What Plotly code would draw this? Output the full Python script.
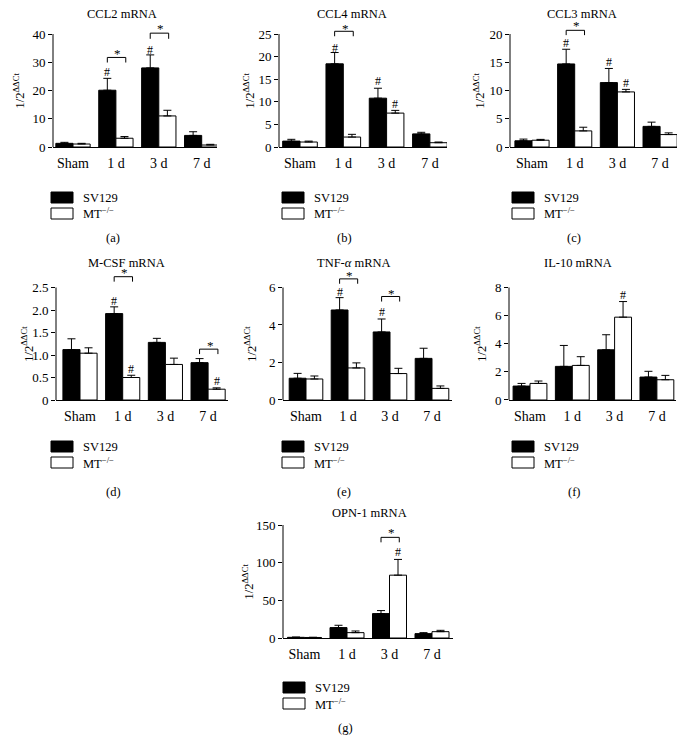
import plotly.graph_objects as go

W, H = 688, 755          # target picture size
OFF = 8                  # page offset of the figure inside the window
FW, FH = W - OFF, H - OFF
FONT = "Liberation Serif"

categories = ["Sham", "1 d", "3 d", "7 d"]
series_names = ["SV129", "MT<sup>−/−</sup>"]

# ---- data (mean, upper error) ----
ccl2_sv129 = [1.3, 20.1, 28.0, 4.1]
ccl2_sv129_err = [0.35, 4.2, 4.6, 1.3]
ccl2_mt = [1.05, 3.1, 11.0, 0.7]
ccl2_mt_err = [0.25, 0.6, 2.0, 0.25]

ccl4_sv129 = [1.3, 18.4, 10.8, 2.9]
ccl4_sv129_err = [0.4, 2.5, 2.2, 0.35]
ccl4_mt = [1.1, 2.2, 7.5, 0.95]
ccl4_mt_err = [0.2, 0.6, 0.6, 0.15]

ccl3_sv129 = [1.1, 14.7, 11.4, 3.65]
ccl3_sv129_err = [0.3, 2.6, 2.5, 0.75]
ccl3_mt = [1.2, 2.85, 9.75, 2.2]
ccl3_mt_err = [0.15, 0.65, 0.45, 0.3]

mcsf_sv129 = [1.12, 1.92, 1.28, 0.83]
mcsf_sv129_err = [0.24, 0.15, 0.09, 0.09]
mcsf_mt = [1.04, 0.50, 0.79, 0.24]
mcsf_mt_err = [0.12, 0.05, 0.14, 0.03]

tnf_sv129 = [1.16, 4.8, 3.63, 2.22]
tnf_sv129_err = [0.26, 0.66, 0.69, 0.54]
tnf_mt = [1.12, 1.71, 1.41, 0.62]
tnf_mt_err = [0.16, 0.27, 0.28, 0.13]

il10_sv129 = [0.99, 2.39, 3.57, 1.63]
il10_sv129_err = [0.19, 1.49, 1.07, 0.41]
il10_mt = [1.18, 2.46, 5.89, 1.44]
il10_mt_err = [0.17, 0.62, 1.11, 0.31]

opn1_sv129 = [0.9, 13.8, 32.4, 5.8]
opn1_sv129_err = [0.3, 3.1, 4.0, 1.3]
opn1_mt = [0.7, 7.1, 83.4, 8.4]
opn1_mt_err = [0.3, 2.2, 20.9, 1.8]

# significance: '#' marks (category index, series 0/1, y)
ccl2_hash = [(1, 0, 26.7), (2, 0, 34.4)]
ccl4_hash = [(1, 0, 21.8), (2, 0, 14.5), (2, 1, 9.5)]
ccl3_hash = [(1, 0, 18.4), (2, 0, 15.1), (2, 1, 11.3)]
mcsf_hash = [(1, 0, 2.2), (1, 1, 0.70), (3, 1, 0.43)]
tnf_hash = [(1, 0, 5.78), (2, 0, 4.68)]
il10_hash = [(2, 1, 7.5)]
opn1_hash = [(2, 1, 114.5)]

# '*' brackets (category index, bracket y, tick bottom y, star y)
ccl2_star = [(1, 31.7, 29.9, 33.8), (2, 40.3, 38.3, 42.5)]
ccl4_star = [(1, 25.6, 24.5, 26.7)]
ccl3_star = [(1, 20.65, 19.8, 21.8)]
mcsf_star = [(1, 2.74, 2.63, 2.87), (3, 1.13, 1.02, 1.26)]
tnf_star = [(1, 6.46, 6.2, 6.76), (2, 5.52, 5.25, 5.8)]
il10_star = []
opn1_star = [(2, 133.6, 127.0, 142.5)]

ccl2_ticks = [0, 10, 20, 30, 40]
ccl4_ticks = [0, 5, 10, 15, 20, 25]
ccl3_ticks = [0, 5, 10, 15, 20]
mcsf_ticks = [0, 0.5, 1.0, 1.5, 2.0, 2.5]
mcsf_ticktext = ["0", "0.5", "1.0", "1.5", "2.0", "2.5"]
tnf_ticks = [0, 2, 4, 6]
il10_ticks = [0, 2, 4, 6, 8]
opn1_ticks = [0, 50, 100, 150]

# ---- layout of panels (pixels in the target picture) ----
rows = {
    1: dict(zero=147, top=34, title_y=14, leg_y=192, lab_y=238),
    2: dict(zero=400, top=287.5, title_y=263, leg_y=441, lab_y=492),
    3: dict(zero=638, top=525, title_y=513, leg_y=682, lab_y=728),
}

panels = [
    dict(lab="(a)", title="CCL2 mRNA", sv=ccl2_sv129, sve=ccl2_sv129_err, mt=ccl2_mt, mte=ccl2_mt_err,
         hash=ccl2_hash, star=ccl2_star, ticks=ccl2_ticks, ticktext=None, rmax=44.0,
         row=1, xl=53, xr=217, c0=73, s=42.9, tcx=122, ylx=18, legx=51),
    dict(lab="(b)", title="CCL4 mRNA", sv=ccl4_sv129, sve=ccl4_sv129_err, mt=ccl4_mt, mte=ccl4_mt_err,
         hash=ccl4_hash, star=ccl4_star, ticks=ccl4_ticks, ticktext=None, rmax=27.5,
         row=1, xl=279, xr=447, c0=300, s=43.3, tcx=352, ylx=248, legx=282),
    dict(lab="(c)", title="CCL3 mRNA", sv=ccl3_sv129, sve=ccl3_sv129_err, mt=ccl3_mt, mte=ccl3_mt_err,
         hash=ccl3_hash, star=ccl3_star, ticks=ccl3_ticks, ticktext=None, rmax=22.5,
         row=1, xl=510, xr=677, c0=532, s=42.7, tcx=582, ylx=478, legx=512),
    dict(lab="(d)", title="M-CSF mRNA", sv=mcsf_sv129, sve=mcsf_sv129_err, mt=mcsf_mt, mte=mcsf_mt_err,
         hash=mcsf_hash, star=mcsf_star, ticks=mcsf_ticks, ticktext=mcsf_ticktext, rmax=2.95,
         row=2, xl=56, xr=228, c0=80, s=42.7, tcx=126, ylx=27, legx=51),
    dict(lab="(e)", title="TNF-<i>α</i> mRNA", sv=tnf_sv129, sve=tnf_sv129_err, mt=tnf_mt, mte=tnf_mt_err,
         hash=tnf_hash, star=tnf_star, ticks=tnf_ticks, ticktext=None, rmax=6.95,
         row=2, xl=283, xr=452, c0=306, s=42.0, tcx=354, ylx=250, legx=282),
    dict(lab="(f)", title="IL-10 mRNA", sv=il10_sv129, sve=il10_sv129_err, mt=il10_mt, mte=il10_mt_err,
         hash=il10_hash, star=il10_star, ticks=il10_ticks, ticktext=None, rmax=8.2,
         row=2, xl=509, xr=676, c0=530, s=42.3, tcx=578, ylx=480, legx=512),
    dict(lab="(g)", title="OPN-1 mRNA", sv=opn1_sv129, sve=opn1_sv129_err, mt=opn1_mt, mte=opn1_mt_err,
         hash=opn1_hash, star=opn1_star, ticks=opn1_ticks, ticktext=None, rmax=150.0,
         row=3, xl=283, xr=453, c0=304.5, s=42.5, tcx=369, ylx=247, legx=283),
]

fig = go.Figure()
shapes = []
annotations = []
layout_axes = {}

def px_x(p):
    return (p - OFF) / FW

def px_y(p):
    return 1 - (p - OFF) / FH

xpos = list(range(len(categories)))

for i, p in enumerate(panels):
    n = "" if i == 0 else str(i + 1)
    xa, ya = "x" + n, "y" + n
    r = rows[p["row"]]
    tickmax = p["ticks"][-1]
    unit_px = (r["zero"] - r["top"]) / tickmax
    top_px = r["zero"] - p["rmax"] * unit_px
    xrange = [(p["xl"] - p["c0"]) / p["s"], (p["xr"] - p["c0"]) / p["s"]]

    for k, (vals, errs, fill) in enumerate([(p["sv"], p["sve"], "black"), (p["mt"], p["mte"], "white")]):
        fig.add_trace(go.Bar(
            x=xpos, y=vals, xaxis=xa, yaxis=ya, name=series_names[k], showlegend=False,
            offsetgroup=str(k),
            marker=dict(color=fill, line=dict(color="black", width=1)),
            error_y=dict(type="data", array=errs, arrayminus=[0] * len(errs), symmetric=False,
                         color="black", thickness=1, width=4),
        ))

    layout_axes["xaxis" + n] = dict(
        domain=[px_x(p["xl"]), px_x(p["xr"])], anchor=ya, range=xrange, automargin=False,
        tickmode="array", tickvals=xpos, ticktext=categories, ticks="",
        showline=True, linecolor="black", linewidth=1, showgrid=False, zeroline=False,
        tickfont=dict(family=FONT, size=14, color="black"), ticklabelstandoff=3,
    )
    layout_axes["yaxis" + n] = dict(
        domain=[px_y(r["zero"]), px_y(top_px)], anchor=xa, range=[0, p["rmax"]], automargin=False,
        tickmode="array", tickvals=p["ticks"],
        ticktext=p["ticktext"] if p["ticktext"] else [str(t) for t in p["ticks"]],
        ticks="outside", ticklen=4, tickcolor="black", tickwidth=1,
        showline=False, showgrid=False, zeroline=False,
        tickfont=dict(family=FONT, size=13, color="black"),
    )
    # y axis line only up to top tick
    shapes.append(dict(type="line", xref="paper", yref="paper",
                       x0=px_x(p["xl"]), x1=px_x(p["xl"]),
                       y0=px_y(r["zero"]), y1=px_y(r["top"]),
                       line=dict(color="black", width=1)))

    # '#' marks
    for (ci, si, yv) in p["hash"]:
        annotations.append(dict(x=ci + (-0.2 if si == 0 else 0.2), y=yv, xref=xa, yref=ya,
                                text="#", showarrow=False, yanchor="middle",
                                font=dict(family=FONT, size=12, color="black")))
    # '*' brackets
    for (ci, yb, yt, ys) in p["star"]:
        x0, x1 = ci - 0.2, ci + 0.23
        shapes.append(dict(type="path", xref=xa, yref=ya,
                           path=f"M {x0} {yt} L {x0} {yb} L {x1} {yb} L {x1} {yt}",
                           line=dict(color="black", width=1)))
        annotations.append(dict(x=(x0 + x1) / 2 + 0.03, y=ys, xref=xa, yref=ya, text="*",
                                showarrow=False, yanchor="middle", yshift=-2,
                                font=dict(family=FONT, size=13, color="black")))

    # title
    annotations.append(dict(x=px_x(p["tcx"]), y=px_y(r["title_y"]), xref="paper", yref="paper",
                            text=p["title"], showarrow=False, xanchor="center", yanchor="middle",
                            font=dict(family=FONT, size=12.5, color="black")))
    # y axis title
    annotations.append(dict(x=px_x(p["ylx"]), y=px_y((r["zero"] + r["top"]) / 2), xref="paper", yref="paper",
                            text="1/2<sup>ΔΔCt</sup>", textangle=-90, showarrow=False,
                            xanchor="center", yanchor="middle",
                            font=dict(family=FONT, size=12.5, color="black")))
    # legend boxes
    for k, fill in enumerate(["black", "white"]):
        y0 = r["leg_y"] + k * 16
        shapes.append(dict(type="rect", xref="paper", yref="paper",
                           x0=px_x(p["legx"]), x1=px_x(p["legx"] + 22),
                           y0=px_y(y0 + 11), y1=px_y(y0),
                           fillcolor=fill, line=dict(color="black", width=1)))
        annotations.append(dict(x=px_x(p["legx"] + 30), y=px_y(y0 + 5.5), xref="paper", yref="paper",
                                text=series_names[k], showarrow=False, xanchor="left", yanchor="middle",
                                font=dict(family=FONT, size=12.5, color="black")))
    # panel label
    annotations.append(dict(x=px_x(p["legx"] + 62), y=px_y(r["lab_y"]), xref="paper", yref="paper",
                            text=p["lab"], showarrow=False, xanchor="center", yanchor="middle",
                            font=dict(family=FONT, size=12.5, color="black")))

fig.update_layout(
    width=FW, height=FH, margin=dict(l=0, r=0, t=0, b=0, autoexpand=False),
    paper_bgcolor="white", plot_bgcolor="white",
    barmode="group", bargap=0.2, bargroupgap=0,
    showlegend=False, shapes=shapes, annotations=annotations,
    **layout_axes,
)

fig.write_html("out.html")
